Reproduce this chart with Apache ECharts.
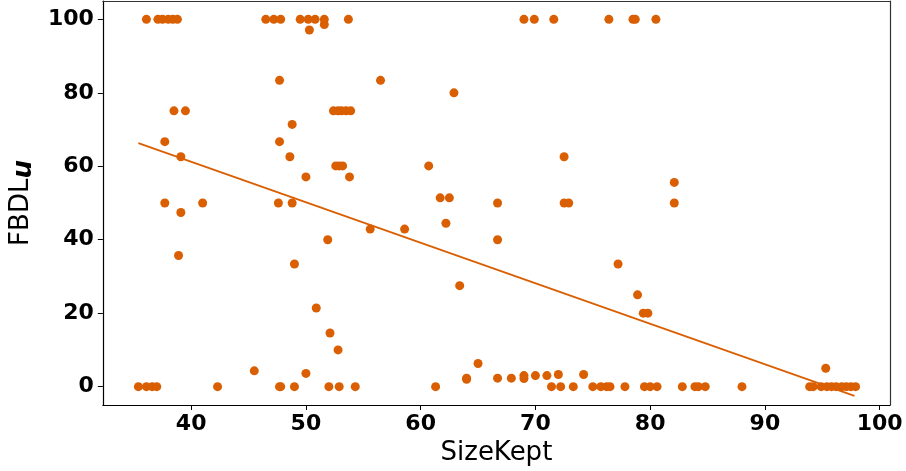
<!DOCTYPE html>
<html>
<head>
<meta charset="utf-8">
<script src="https://cdn.jsdelivr.net/npm/echarts@6/dist/echarts.min.js"></script>
<style>html,body{margin:0;padding:0;background:#fff}#c{width:906px;height:471px}</style>
</head>
<body>
<div id="c"></div>
<script>
// SizeKept (x) and FBDL_u (y) pairs
const sizeKept = [
  36.1, 37.1, 37.5, 38.0, 38.4, 38.8, 46.5, 47.2, 47.8, 49.5, 50.2, 50.8, 51.6, 53.7, 69.0, 69.9, 71.6, 76.4, 78.5, 78.7, 80.5,
  50.3, 51.6,
  47.7, 56.5,
  62.9,
  38.5, 39.5, 52.4, 52.8, 53.1, 53.5, 53.9,
  48.8,
  37.7, 47.7,
  39.1, 48.6, 72.5,
  52.6, 52.9, 53.2, 60.7,
  50.0, 53.8,
  82.1,
  61.7, 62.5,
  37.7, 41.0, 47.6, 48.8, 66.7, 72.5, 72.9, 82.1,
  39.1,
  62.2,
  55.6, 58.6,
  51.9, 66.7,
  38.9,
  49.0, 77.2,
  63.4,
  78.9,
  50.9,
  79.4, 79.8,
  52.1,
  52.8,
  65.0,
  95.3,
  45.5,
  50.0,
  72.0, 74.2,
  69.0, 70.0, 71.0,
  64.0, 66.7, 67.9, 64.0, 69.0,
  35.4, 36.1, 36.6, 37.0, 42.3, 47.7, 47.8, 49.0, 52.0, 52.9, 54.3, 61.3, 71.4, 72.2, 73.3, 75.0, 75.7, 76.2, 76.5, 77.8,
  79.5, 80.0, 80.6, 82.8, 83.9, 84.2, 84.8, 88.0, 93.9, 94.2, 94.9, 95.4, 95.8, 96.2, 96.7, 97.1, 97.5, 97.9
];
const fbdlU = [
  100, 100, 100, 100, 100, 100, 100, 100, 100, 100, 100, 100, 100, 100, 100, 100, 100, 100, 100, 100, 100,
  97.1, 98.6,
  83.4, 83.4,
  80.0,
  75.1, 75.1, 75.1, 75.1, 75.1, 75.1, 75.1,
  71.4,
  66.7, 66.7,
  62.6, 62.6, 62.6,
  60.1, 60.1, 60.1, 60.1,
  57.1, 57.1,
  55.6,
  51.4, 51.4,
  50.0, 50.0, 50.0, 50.0, 50.0, 50.0, 50.0, 50.0,
  47.4,
  44.5,
  42.9, 42.9,
  40.0, 40.0,
  35.7,
  33.4, 33.4,
  27.5,
  25.0,
  21.4,
  20.0, 20.0,
  14.6,
  10.0,
  6.3,
  5.0,
  4.3,
  3.6,
  3.3, 3.3,
  3.0, 3.0, 3.0,
  2.3, 2.3, 2.3, 2.0, 2.2,
  0, 0, 0, 0, 0, 0, 0, 0, 0, 0, 0, 0, 0, 0, 0, 0, 0, 0, 0, 0,
  0, 0, 0, 0, 0, 0, 0, 0, 0, 0, 0, 0, 0, 0, 0, 0, 0, 0
];
// Fitted trend line end points
const fitX = [35.4, 97.8];
const fitY = [66.3, -2.5];
const xTicks = [40, 50, 60, 70, 80, 90, 100];
const yTicks = [0, 20, 40, 60, 80, 100];

const color = '#d95f02';
const points = sizeKept.map((x, i) => [x, fbdlU[i]]);
const fit = fitX.map((x, i) => [x, fitY[i]]);

const chart = echarts.init(document.getElementById('c'), null, {renderer: 'canvas'});
const tickLabel = {fontFamily: 'DejaVu Sans', fontWeight: 'bold', fontSize: 22, color: '#000'};
chart.setOption({
  animation: false,
  backgroundColor: '#fff',
  grid: {left: 101, right: 16, top: 1, bottom: 66, containLabel: false},
  xAxis: [{
    type: 'value', min: 32.3, max: 100.9,
    name: 'SizeKept', nameLocation: 'middle', nameGap: 34,
    nameTextStyle: {fontFamily: 'DejaVu Sans', fontSize: 26, color: '#000'},
    axisLine: {show: true, onZero: false, lineStyle: {color: '#000', width: 1.2}},
    axisTick: {show: true, length: 5, customValues: xTicks, lineStyle: {color: '#000', width: 1}},
    axisLabel: Object.assign({customValues: xTicks, margin: 8}, tickLabel),
    splitLine: {show: false}
  }, {
    type: 'value', position: 'top', min: 32.3, max: 100.9,
    axisLine: {show: true, onZero: false, lineStyle: {color: '#333', width: 1.2}},
    axisTick: {show: false}, axisLabel: {show: false}, splitLine: {show: false}
  }],
  yAxis: [{
    type: 'value', min: -5, max: 105,
    name: '{a|FBDL}{b|u}', nameLocation: 'middle', nameGap: 64,
    nameTextStyle: {
      rich: {
        a: {fontFamily: 'DejaVu Sans', fontSize: 26, color: '#000'},
        b: {fontFamily: 'DejaVu Sans', fontSize: 26, fontWeight: 'bold', fontStyle: 'italic', color: '#000', padding: [6, 0, 0, 0]}
      }
    },
    axisLine: {show: true, onZero: false, lineStyle: {color: '#000', width: 1.2}},
    axisTick: {show: true, length: 5, customValues: yTicks, lineStyle: {color: '#000', width: 1}},
    axisLabel: Object.assign({customValues: yTicks, margin: 9}, tickLabel),
    splitLine: {show: false}
  }, {
    type: 'value', position: 'right', min: -5, max: 105,
    axisLine: {show: true, onZero: false, lineStyle: {color: '#333', width: 1.2}},
    axisTick: {show: false}, axisLabel: {show: false}, splitLine: {show: false}
  }],
  series: [{
    type: 'scatter', data: points, symbol: 'circle', symbolSize: 9,
    itemStyle: {color: color, opacity: 1}, z: 2
  }, {
    type: 'line', data: fit, showSymbol: false, symbol: 'none',
    lineStyle: {color: color, width: 1.8}, z: 3
  }]
});
</script>
</body>
</html>
